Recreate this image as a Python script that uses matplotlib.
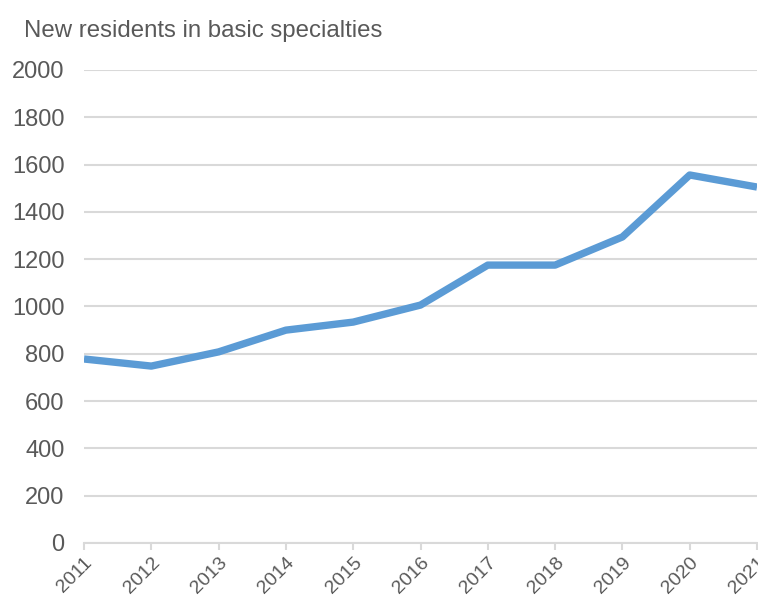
import matplotlib
matplotlib.use("Agg")
import matplotlib.pyplot as plt

plt.rcParams['font.family'] = ['Liberation Sans', 'DejaVu Sans']

years = [2011, 2012, 2013, 2014, 2015, 2016, 2017, 2018, 2019, 2020, 2021]
residents = [778, 748, 808, 900, 934, 1006, 1175, 1175, 1294, 1556, 1505]
yticks = [0, 200, 400, 600, 800, 1000, 1200, 1400, 1600, 1800, 2000]

grey = '#595959'
grid = '#d9d9d9'

fig = plt.figure(figsize=(7.58, 5.95), dpi=100)
ax = fig.add_axes([0.1108, 0.0874, 0.8879, 0.795])

ax.plot(years, residents, color='#5b9bd5', linewidth=5.3, solid_capstyle='butt', zorder=3)

ax.set_xlim(years[0], years[-1])
ax.set_ylim(0, 2000)
ax.set_yticks(yticks)
ax.set_xticks(years)
ax.set_xticklabels([str(y) for y in years], rotation=45, ha='right', rotation_mode='anchor',
                   fontsize=14, color=grey)
ax.set_yticklabels([str(v) for v in yticks], fontsize=17, color=grey)

ax.grid(axis='y', color=grid, linewidth=1.5)
ax.set_axisbelow(True)
for s in ['top', 'right', 'left']:
    ax.spines[s].set_visible(False)
ax.spines['bottom'].set_color(grid)
ax.spines['bottom'].set_linewidth(1.5)
ax.tick_params(axis='y', length=0, pad=14)
ax.tick_params(axis='x', length=5, width=1.5, color=grid, pad=3)

fig.text(0.032, 0.948, 'New residents in basic specialties', fontsize=17.3, color=grey,
         va='center', ha='left')

fig.savefig('out.png', dpi=100)
